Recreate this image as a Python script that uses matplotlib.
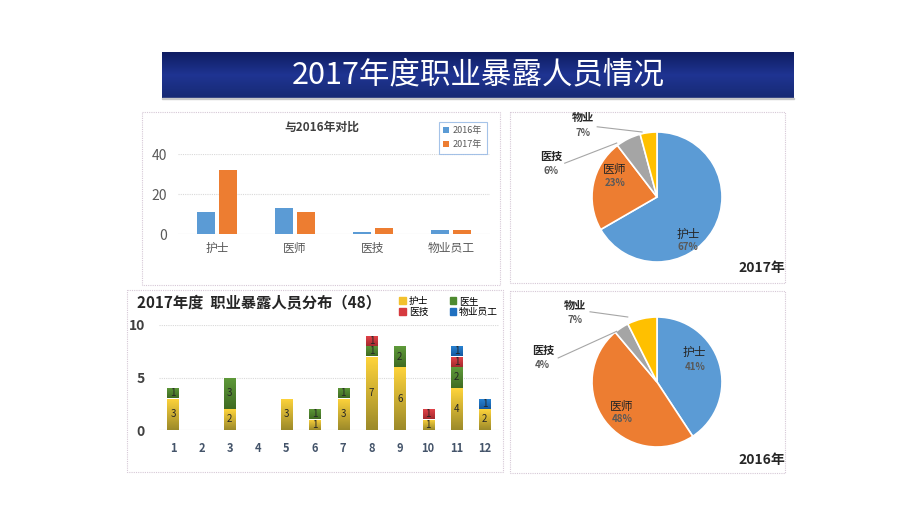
import numpy as np
import matplotlib
matplotlib.use('Agg')
import matplotlib.pyplot as plt
from matplotlib.patches import Rectangle, Patch
from matplotlib.colors import LinearSegmentedColormap

plt.rcParams['font.family'] = ['Noto Sans CJK SC', 'DejaVu Sans']

# ---------------- 数据 ----------------
main_title = '2017年度职业暴露人员情况'

cmp_title = '与2016年对比'
cmp_categories = ['护士', '医师', '医技', '物业员工']
cmp_2016 = [11, 13, 1, 2]
cmp_2017 = [32, 11, 3, 2]
cmp_series = ['2016年', '2017年']

months = ['1', '2', '3', '4', '5', '6', '7', '8', '9', '10', '11', '12']
dist_title = '2017年度  职业暴露人员分布（48）'
nurse = [3, 0, 2, 0, 3, 1, 3, 7, 6, 1, 4, 2]
doctor = [1, 0, 3, 0, 0, 1, 1, 1, 2, 0, 2, 0]
tech = [0, 0, 0, 0, 0, 0, 0, 1, 0, 1, 1, 0]
property_staff = [0, 0, 0, 0, 0, 0, 0, 0, 0, 0, 1, 1]
dist_series = ['护士', '医生', '医技', '物业员工']

pie_names = ['护士', '医师', '医技', '物业']
pie_2017 = [32, 11, 3, 2]
pie_2017_pct = ['67%', '23%', '6%', '7%']
pie_2016 = [11, 13, 1, 2]
pie_2016_pct = ['41%', '48%', '4%', '7%']

W, H = 920, 518
C_BLUE, C_ORANGE, C_GRAY, C_YELLOW = '#5b9bd5', '#ed7d31', '#a5a5a5', '#ffc000'


def box(x0, y0, x1, y1):
    return [x0 / W, 1 - y1 / H, (x1 - x0) / W, (y1 - y0) / H]


def gradient_fill(ax, bars, top, bottom):
    # 每个柱段上亮下暗的渐变
    cmap = LinearSegmentedColormap.from_list('g', [bottom, top])
    grad = np.linspace(0, 1, 64).reshape(-1, 1)
    for r in bars:
        if r.get_height() <= 0:
            continue
        x, y = r.get_x(), r.get_y()
        im = ax.imshow(grad, extent=[x, x + r.get_width(), y, y + r.get_height()],
                       origin='lower', aspect='auto', cmap=cmap, zorder=2)
        im.set_clip_path(r)
        r.set_facecolor('none')


fig = plt.figure(figsize=(W / 100, H / 100), dpi=100)

# ---------------- 背景：标题栏和面板边框 ----------------
bg = fig.add_axes([0, 0, 1, 1])
bg.set_xlim(0, W)
bg.set_ylim(H, 0)
bg.axis('off')
navy = LinearSegmentedColormap.from_list('navy', ['#0f1d62', '#1f3492', '#172a74'])
bg.imshow(np.linspace(0, 1, 50).reshape(-1, 1), extent=[162, 794, 98, 52],
          cmap=navy, aspect='auto', zorder=1)
bg.add_patch(Rectangle((162, 98), 632, 1.2, color='#c8c8c8', zorder=1))
bg.text(478, 75, main_title, color='white', fontsize=22, ha='center', va='center', zorder=3)
for (x0, y0, x1, y1) in [(142, 112, 500, 285), (127, 290, 503, 472),
                         (510, 112, 785, 283), (510, 291, 785, 473)]:
    bg.add_patch(Rectangle((x0, y0), x1 - x0, y1 - y0, fill=False,
                           edgecolor='#d6c8d6', linestyle=(0, (1, 1)), linewidth=0.8))
bg.text(785, 268, '2017年', fontsize=10, fontweight='bold', color='#262626',
        ha='right', va='center')
bg.text(785, 460, '2016年', fontsize=10, fontweight='bold', color='#262626',
        ha='right', va='center')

# ---------------- 与2016年对比 ----------------
ax1 = fig.add_axes(box(178, 154, 490, 234))
x = np.arange(len(cmp_categories))
bw = 0.23
ax1.bar(x - bw / 2 - 0.025, cmp_2016, bw, color=C_BLUE, label=cmp_series[0], zorder=2)
ax1.bar(x + bw / 2 + 0.025, cmp_2017, bw, color=C_ORANGE, label=cmp_series[1], zorder=2)
ax1.set_xlim(-0.5, 3.5)
ax1.set_ylim(0, 40)
ax1.set_yticks([0, 20, 40])
for v in [20, 40]:
    ax1.axhline(v, color='#d9d9d9', linestyle=(0, (1, 1)), linewidth=0.8, zorder=0)
ax1.axhline(0, color='#d9d9d9', linewidth=0.8, zorder=1)
ax1.set_xticks(x)
ax1.set_xticklabels(cmp_categories)
for s in ax1.spines.values():
    s.set_visible(False)
ax1.tick_params(axis='y', length=0, labelsize=10, labelcolor='#595959', pad=8)
ax1.tick_params(axis='x', length=0, labelsize=8.5, labelcolor='#595959', pad=6)
ax1.patch.set_alpha(0)
fig.text(322 / W, 1 - 127 / H, cmp_title, fontsize=8.5, fontweight='bold',
         color='#404040', ha='center', va='center')
leg1 = ax1.legend(loc='upper left', bbox_to_anchor=(434 / W, 1 - 117 / H),
                  bbox_transform=fig.transFigure, fontsize=6.5, frameon=True,
                  fancybox=False, handlelength=0.7, handleheight=0.7,
                  handletextpad=0.4, labelspacing=0.6, borderpad=0.5)
leg1.get_frame().set_edgecolor('#8fb4e3')
leg1.get_frame().set_linewidth(0.8)
for t in leg1.get_texts():
    t.set_color('#595959')

# ---------------- 2017年度分布（堆积柱） ----------------
ax2 = fig.add_axes(box(159, 325, 499, 430))
xm = np.arange(1, len(months) + 1)
bw2 = 0.4
series = [nurse, doctor, tech, property_staff]
colors = [('#ffd43b', '#9c8a2a'), ('#5f9a3a', '#3f6b22'),
          ('#e8444a', '#a42a2e'), ('#2a86d6', '#1559a0')]
flat = ['#f2c12e', '#4e8a30', '#d63a3f', '#1f70c0']
bottom = np.zeros(len(months))
for vals, (top_c, bot_c) in zip(series, colors):
    bars = ax2.bar(xm, vals, bw2, bottom=bottom, zorder=2, edgecolor='none')
    gradient_fill(ax2, bars, top_c, bot_c)
    ax2.bar_label(bars, labels=[str(v) if v else '' for v in vals],
                  label_type='center', fontsize=7, color='#262626', zorder=4)
    bottom += np.array(vals)
ax2.set_xlim(0.5, 12.5)
ax2.set_ylim(0, 10)
ax2.set_yticks([0, 5, 10])
for v in [5, 10]:
    ax2.axhline(v, color='#d9d9d9', linestyle=(0, (1, 1)), linewidth=0.8, zorder=0)
ax2.axhline(0, color='#d9d9d9', linewidth=0.8, zorder=1)
ax2.set_xticks(xm)
ax2.set_xticklabels(months)
for s in ax2.spines.values():
    s.set_visible(False)
ax2.tick_params(axis='y', length=0, labelsize=10, labelcolor='#404040', pad=10)
ax2.tick_params(axis='x', length=0, labelsize=8, labelcolor='#44546a', pad=9)
for t in ax2.get_yticklabels() + ax2.get_xticklabels():
    t.set_fontweight('bold')
ax2.patch.set_alpha(0)
fig.text(137 / W, 1 - 303 / H, dist_title, fontsize=11, fontweight='bold',
         color='#262626', ha='left', va='center')
handles = [Patch(color=c) for c in flat]
order = [0, 2, 1, 3]
ax2.legend([handles[i] for i in order], [dist_series[i] for i in order], ncol=2,
           loc='upper left', bbox_to_anchor=(395 / W, 1 - 292 / H),
           bbox_transform=fig.transFigure, frameon=False, fontsize=7,
           handlelength=0.7, handleheight=0.7, handletextpad=0.3,
           columnspacing=2.2, labelspacing=0.1, borderaxespad=0)

# ---------------- 饼图 ----------------
pie_colors = [C_BLUE, C_ORANGE, C_GRAY, C_YELLOW]


def draw_pie(rect, vals, pcts, name_pos, pct_pos, leaders):
    ax = fig.add_axes(rect)
    ax.pie(vals, colors=pie_colors, startangle=90, counterclock=False,
           wedgeprops=dict(edgecolor='white', linewidth=1.2))
    ax.set_xlim(-1, 1)
    ax.set_ylim(-1, 1)
    for i in range(len(vals)):
        ax.text(*name_pos[i], pie_names[i], fontsize=8.5 if i < 2 else 8,
                fontweight='normal' if i < 2 else 'bold', color='#262626',
                ha='center', va='center', clip_on=False)
        ax.text(*pct_pos[i], pcts[i], fontsize=7, fontweight='bold',
                color='#595959', ha='center', va='center', clip_on=False)
    for (p0, p1) in leaders:
        ax.plot([p0[0], p1[0]], [p0[1], p1[1]], color='#a6a6a6', linewidth=0.8,
                clip_on=False)
    return ax


draw_pie(box(592, 132, 722, 262), pie_2017, pie_2017_pct,
         [(0.48, -0.58), (-0.65, 0.42), (-1.63, 0.62), (-1.14, 1.23)],
         [(0.48, -0.77), (-0.65, 0.21), (-1.63, 0.40), (-1.14, 0.98)],
         [((-1.42, 0.52), (-0.62, 0.83)), ((-0.92, 1.08), (-0.23, 1.0))])

draw_pie(box(592, 317, 722, 447), pie_2016, pie_2016_pct,
         [(0.58, 0.46), (-0.54, -0.37), (-1.75, 0.48), (-1.26, 1.18)],
         [(0.58, 0.23), (-0.54, -0.57), (-1.77, 0.26), (-1.26, 0.95)],
         [((-1.52, 0.37), (-0.62, 0.78)), ((-1.03, 1.08), (-0.45, 1.0))])

fig.savefig('out.png', dpi=100)
